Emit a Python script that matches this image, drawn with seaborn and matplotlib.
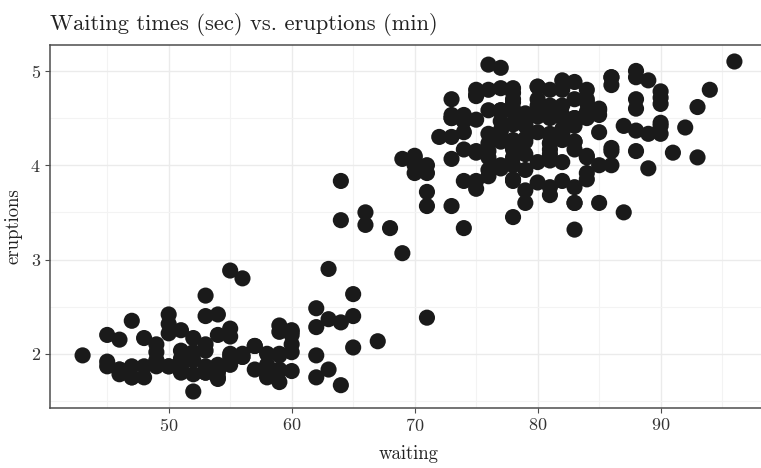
import matplotlib
matplotlib.use("Agg")
import matplotlib.pyplot as plt
import seaborn as sns
import pandas as pd
from matplotlib.ticker import MultipleLocator

eruptions = [3.600,1.800,3.333,2.283,4.533,2.883,4.700,3.600,1.950,4.350,1.833,3.917,4.200,1.750,4.700,2.167,1.750,4.800,1.600,4.250,
1.800,1.750,3.450,3.067,4.533,3.600,1.967,4.083,3.850,4.433,4.300,4.467,3.367,4.033,3.833,2.017,1.867,4.833,1.833,4.783,
4.350,1.883,4.567,1.750,4.533,3.317,3.833,2.100,4.633,2.000,4.800,4.716,1.833,4.833,1.733,4.883,3.717,1.667,4.567,4.317,
2.233,4.500,1.750,4.800,1.817,4.400,4.167,4.700,2.067,4.700,4.033,1.967,4.500,4.000,1.983,5.067,2.017,4.567,3.883,3.600,
4.133,4.333,4.100,2.633,4.067,4.933,3.950,4.517,2.167,4.000,2.200,4.333,1.867,4.817,1.833,4.300,4.667,3.750,1.867,4.900,
2.483,4.367,2.100,4.500,4.050,1.867,4.700,1.783,4.850,3.683,4.733,2.300,4.900,4.417,1.700,4.633,2.317,4.600,1.817,4.417,
2.617,4.067,4.250,1.967,4.600,3.767,1.917,4.500,2.267,4.650,1.867,4.167,2.800,4.333,1.833,4.383,1.883,4.933,2.033,3.733,
4.233,2.233,4.533,4.817,4.333,1.983,4.633,2.017,5.100,1.800,5.033,4.000,2.400,4.600,3.567,4.000,4.500,4.083,1.800,3.967,
2.200,4.150,2.000,3.833,3.500,4.583,2.367,5.000,1.933,4.617,1.917,2.083,4.583,3.333,4.167,4.333,4.500,2.417,4.000,4.167,
1.883,4.583,4.250,3.767,2.033,4.433,4.083,1.833,4.417,2.183,4.800,1.833,4.800,4.100,3.966,4.233,3.500,4.366,2.250,4.667,
2.100,4.350,4.133,1.867,4.600,1.783,4.367,3.850,1.933,4.500,2.383,4.700,1.867,3.833,3.417,4.233,2.400,4.800,2.000,4.150,
1.867,4.267,1.750,4.483,4.000,4.117,4.083,4.267,3.917,4.550,4.083,2.417,4.183,2.217,4.450,1.883,1.850,4.283,3.950,2.333,
4.150,2.350,4.933,2.900,4.583,3.833,2.083,4.367,2.133,4.350,2.200,4.450,3.567,4.500,4.150,3.817,3.917,4.450,2.000,4.283,
4.767,4.533,1.850,4.250,1.983,2.250,4.750,4.117,2.150,4.417,1.817,4.467]

waiting = [79,54,74,62,85,55,88,85,51,85,54,84,78,47,83,52,62,84,52,79,
51,47,78,69,74,83,55,76,78,79,73,77,66,80,74,52,48,80,59,90,
80,58,84,58,73,83,64,53,82,59,75,90,54,80,54,83,71,64,77,81,
59,84,48,82,60,92,78,78,65,73,82,56,79,71,62,76,60,78,76,83,
75,82,70,65,73,88,76,80,48,86,60,90,50,78,63,72,84,75,51,82,
62,88,49,83,81,47,84,52,86,81,75,59,89,79,59,81,50,85,59,87,
53,69,77,56,88,81,45,82,55,90,45,83,56,89,46,82,51,86,53,79,
81,60,82,77,76,59,80,49,96,53,77,77,65,81,71,70,81,93,53,89,
45,86,58,78,66,76,63,88,52,93,49,57,77,68,81,81,73,50,85,74,
55,77,83,83,51,78,84,46,83,55,81,57,76,84,77,81,87,77,51,78,
60,82,91,53,78,46,77,84,49,83,71,80,49,75,64,76,53,94,55,76,
50,82,54,75,78,79,78,78,70,79,70,54,86,50,90,54,54,77,79,64,
75,47,86,63,85,82,57,82,67,74,54,83,73,73,88,80,71,83,56,79,
78,84,58,83,43,60,75,81,46,90,46,74]

title = "Waiting times (sec) vs. eruptions (min)"
x_label = "waiting"
y_label = "eruptions"

df = pd.DataFrame({"waiting": waiting, "eruptions": eruptions})

sns.set_theme(style="white")
plt.rcParams["font.family"] = ["cmr10", "DejaVu Serif"]
plt.rcParams["axes.formatter.use_mathtext"] = True
plt.rcParams["mathtext.fontset"] = "cm"

fig = plt.figure(figsize=(7.61, 4.68), dpi=100)
# panel runs past the right edge of the picture (cropped, as in the reference)
ax = fig.add_axes([50/761, 1-408/468, (767-50)/761, (408-45)/468])

sns.scatterplot(data=df, x="waiting", y="eruptions", ax=ax, s=135,
                color="#1a1a1a", edgecolor="none", linewidth=0, zorder=3)

ax.set_xlim(40.35, 98.65)
ax.set_ylim(1.425, 5.275)
ax.xaxis.set_major_locator(MultipleLocator(10))
ax.xaxis.set_minor_locator(MultipleLocator(5))
ax.yaxis.set_major_locator(MultipleLocator(1))
ax.yaxis.set_minor_locator(MultipleLocator(0.5))

ax.grid(which="major", color="#ebebeb", linewidth=1.0, zorder=0)
ax.grid(which="minor", color="#f3f3f3", linewidth=0.8, zorder=0)
ax.set_axisbelow(True)

for sp in ax.spines.values():
    sp.set_color("#4d4d4d")
    sp.set_linewidth(1.1)
ax.spines["right"].set_visible(False)

ax.tick_params(which="major", direction="out", length=3.5, width=0.8,
               color="#4d4d4d", labelsize=13, labelcolor="#333333",
               bottom=True, left=True, pad=3)
ax.tick_params(which="minor", length=0)

ax.set_xlabel(x_label, fontsize=13.5, color="#222222", labelpad=8)
ax.set_ylabel(y_label, fontsize=13.5, color="#222222", labelpad=6)
ax.set_title(title, loc="left", fontsize=16.2, color="#222222", pad=11)

fig.savefig("out.png", dpi=100)
